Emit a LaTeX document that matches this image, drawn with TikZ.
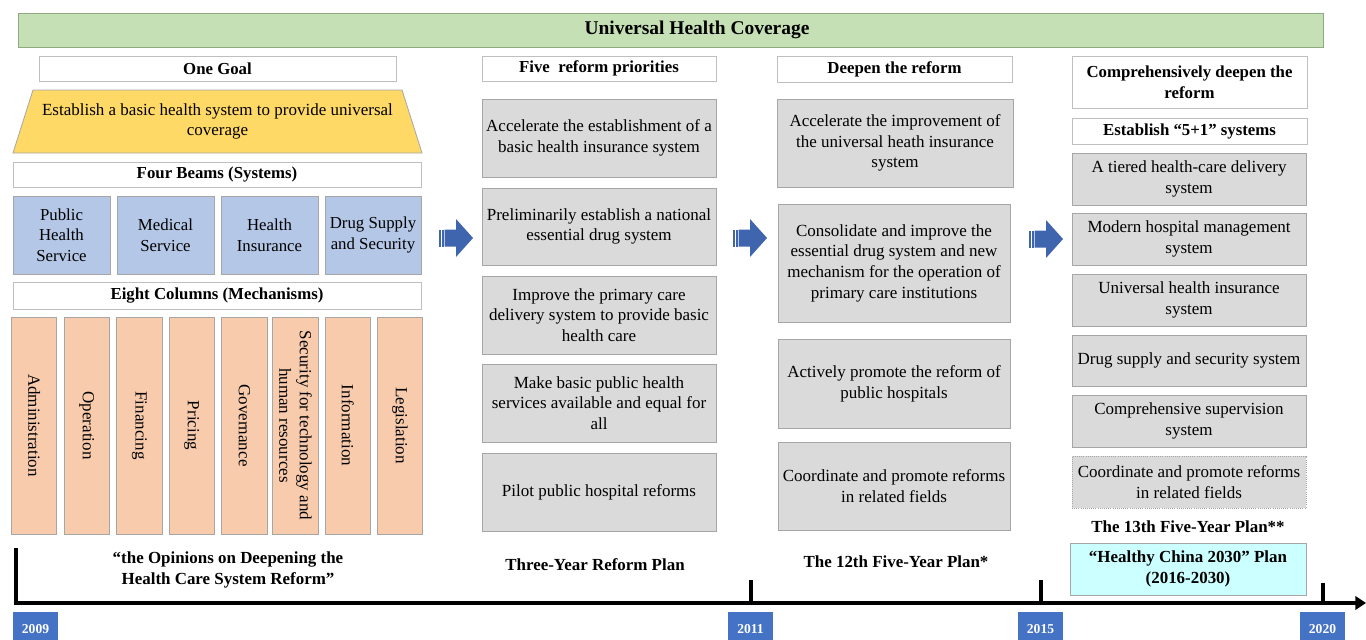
\documentclass[tikz,border=0pt]{standalone}
\usepackage{fontspec}
\setmainfont{Liberation Serif}
\usetikzlibrary{arrows.meta}
\definecolor{gbar}{HTML}{C5E0B4}
\definecolor{gbarb}{HTML}{8FAA7E}
\definecolor{bord}{HTML}{A6A6A6}
\definecolor{wbord}{HTML}{BFBFBF}
\definecolor{gold}{HTML}{FFD966}
\definecolor{beam}{HTML}{B4C7E7}
\definecolor{peach}{HTML}{F8CBAD}
\definecolor{grayf}{HTML}{DADADA}
\definecolor{cyanf}{HTML}{CCFFFF}
\definecolor{yearb}{HTML}{4472C4}
\definecolor{arrb}{HTML}{3F65AE}
\tikzset{
 base/.style={inner sep=0pt, align=center, font=\fontsize{12.75}{15.5}\selectfont, line width=0.6pt},
 hdr/.style={base, draw=wbord, fill=white, font=\fontsize{12.6}{15.5}\selectfont\bfseries},
 item/.style={base, draw=bord, fill=grayf},
 beambox/.style={base, draw=bord, fill=beam, font=\fontsize{12.6}{15.5}\selectfont},
 colbox/.style={base, draw=bord, fill=peach, rotate=-90, minimum width=162.75pt, minimum height=34pt},
 lbl/.style={inner sep=0pt, align=center, font=\fontsize{12.7}{15.75}\selectfont\bfseries},
 year/.style={base, fill=yearb, text=white, font=\fontsize{10.2}{12}\selectfont\bfseries},
 axis/.style={line width=3pt, line join=miter},
}
% \rbox{style}{x1}{y1}{x2}{y2}{name}{text}
\newcommand\rbox[7]{\node[#1, minimum width={(#4-#2)*0.75pt}, minimum height={(#5-#3)*0.75pt}] (#6) at ({(#2+#4)/2},{(#3+#5)/2}) {#7};}
\newcommand\blockarrow[2]{%
 \fill[arrb] (#1,#2-8.5) rectangle (#1+1.5,#2+8.5);
 \fill[arrb] (#1+2.7,#2-8.5) rectangle (#1+4.5,#2+8.5);
 \fill[arrb] (#1+5.7,#2-8.5) -- (#1+17,#2-8.5) -- (#1+17,#2-19) -- (#1+34,#2) -- (#1+17,#2+19) -- (#1+17,#2+8.5) -- (#1+5.7,#2+8.5) -- cycle;
}
\begin{document}
\begin{tikzpicture}[x=0.75pt,y=-0.75pt]
\clip (0,0) rectangle (1366,639);
\fill[white] (0,0) rectangle (1366,639);

% title bar
\rbox{base, draw=gbarb, fill=gbar}{18}{13}{1323}{47}{uhcbar}{}
\node[lbl, font=\fontsize{14.6}{17}\selectfont\bfseries] (uhc) at (697,30) {Universal Health Coverage};

% ---- left block
\rbox{hdr}{39}{56}{396}{81}{goalh}{One Goal}
\draw[draw=bord, fill=gold, line width=0.6pt] (33,90) -- (402,90) -- (422,153) -- (13,153) -- cycle;
\node[base] (goal) at (217.5,121.5) {Establish a basic health system to provide universal\\coverage};
\rbox{hdr}{13}{162}{421}{187}{beamh}{Four Beams (Systems)}
\rbox{beambox}{13}{196}{110}{274}{b1}{Public\\Health\\Service}
\rbox{beambox}{117}{196}{214}{274}{b2}{Medical\\Service}
\rbox{beambox}{221}{196}{318}{274}{b3}{Health\\Insurance}
\rbox{beambox}{325}{196}{421}{274}{b4}{Drug Supply\\and Security}
\rbox{hdr}{13}{282}{421}{309}{colh}{Eight Columns (Mechanisms)}
\node[colbox] (c1) at (34.2,425.5) {Administration};
\node[colbox] (c2) at (86.7,425.5) {Operation};
\node[colbox] (c3) at (139.5,425.5) {Financing};
\node[colbox] (c4) at (191.7,425.5) {Pricing};
\node[colbox] (c5) at (244.3,425.5) {Governance};
\node[colbox] (c6) at (295.5,425.5) {Security for technology and\\human resources};
\node[colbox] (c7) at (347.8,425.5) {Information};
\node[colbox] (c8) at (400,425.5) {Legislation};
\node[lbl] (lop) at (228,569.5) {“the Opinions on Deepening the\\Health Care System Reform”};

% ---- arrows
\blockarrow{439}{238}
\blockarrow{733}{238}
\blockarrow{1029}{239}

% ---- three-year plan
\rbox{hdr}{482}{56}{716}{81}{h2}{Five\ \ reform priorities}
\rbox{item}{482}{99}{716}{177}{p1}{Accelerate the establishment of a\\basic health insurance system}
\rbox{item}{482}{188}{716}{265}{p2}{Preliminarily establish a national\\essential drug system}
\rbox{item}{482}{276}{716}{354}{p3}{Improve the primary care\\delivery system to provide basic\\health care}
\rbox{item}{482}{364}{716}{442}{p4}{Make basic public health\\services available and equal for\\all}
\rbox{item}{482}{453}{716}{531}{p5}{Pilot public hospital reforms}
\node[lbl] (l3) at (595,565) {Three-Year Reform Plan};

% ---- 12th five-year plan
\rbox{hdr}{777}{56}{1012}{82}{h3}{Deepen the reform}
\rbox{item}{777}{99}{1013}{187}{d1}{Accelerate the improvement of\\the universal heath insurance\\system}
\rbox{item}{778}{204}{1010}{322}{d2}{Consolidate and improve the\\essential drug system and new\\mechanism for the operation of\\primary care institutions}
\rbox{item}{778}{339}{1010}{428}{d3}{Actively promote the reform of\\public hospitals}
\rbox{item}{778}{442}{1010}{530}{d4}{Coordinate and promote reforms\\in related fields}
\node[lbl] (l12) at (896,562) {The 12th Five-Year Plan*};

% ---- 13th five-year plan
\rbox{hdr}{1072}{56}{1307}{108}{h4a}{Comprehensively deepen the\\reform}
\rbox{hdr}{1072}{118}{1307}{144}{h4b}{Establish “5+1” systems}
\rbox{item}{1072}{153}{1306}{205}{s1}{A tiered health-care delivery\\system}
\rbox{item}{1072}{213}{1306}{265}{s2}{Modern hospital management\\system}
\rbox{item}{1072}{274}{1306}{326}{s3}{Universal health insurance\\system}
\rbox{item}{1072}{335}{1306}{386}{s4}{Drug supply and security system}
\rbox{item}{1072}{395}{1306}{447}{s5}{Comprehensive supervision\\system}
\rbox{item, densely dotted}{1072}{456}{1306}{508}{s6}{Coordinate and promote reforms\\in related fields}
\node[lbl] (l13) at (1188,527) {The 13th Five-Year Plan**};
\rbox{base, draw=bord, fill=cyanf, font=\fontsize{12.7}{15.5}\selectfont\bfseries}{1070}{543}{1306}{595}{hc}{“Healthy China 2030” Plan\\(2016-2030)}

% ---- timeline
\coordinate (t0) at (16,548);
\coordinate (tc) at (16,603);
\coordinate (tend) at (1366,603);
\coordinate (k11a) at (751,580); \coordinate (k11b) at (751,603);
\coordinate (k15a) at (1041,580); \coordinate (k15b) at (1041,603);
\coordinate (k20a) at (1323,583); \coordinate (k20b) at (1323,603);
\draw[axis, -{Triangle[length=8pt,width=10pt]}] (t0) -- (tc) -- (tend);
\draw[axis] (k11a) -- (k11b);
\draw[axis] (k15a) -- (k15b);
\draw[axis] (k20a) -- (k20b);

\rbox{year}{13}{612}{58}{646}{y09}{2009}
\rbox{year}{728}{612}{773}{646}{y11}{2011}
\rbox{year}{1018}{612}{1063}{646}{y15}{2015}
\rbox{year}{1300}{612}{1345}{646}{y20}{2020}
\end{tikzpicture}
\end{document}
